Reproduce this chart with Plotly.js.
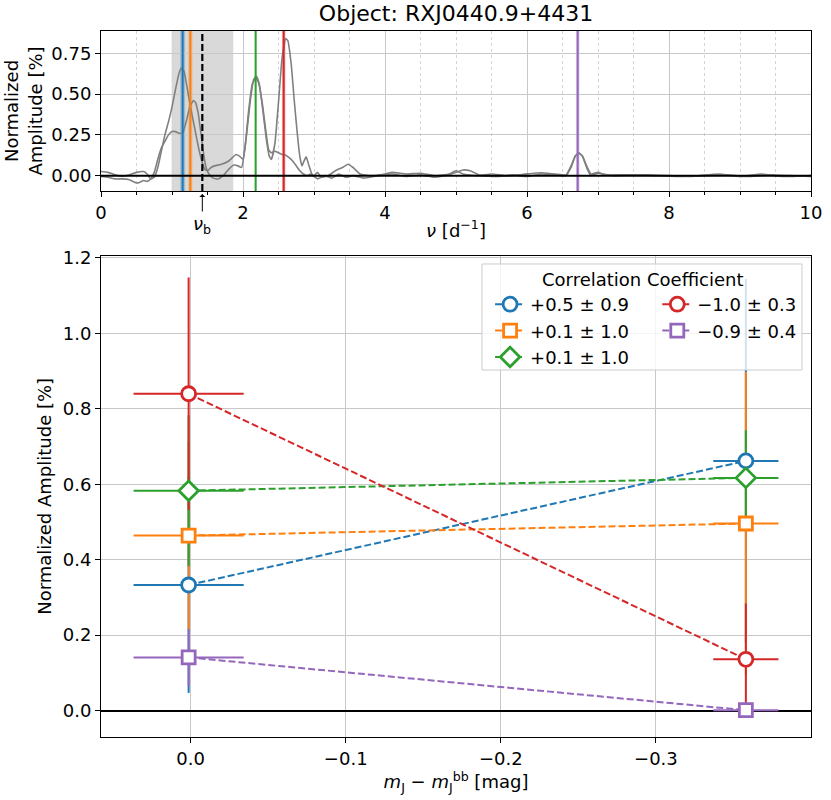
<!DOCTYPE html>
<html>
<head>
<meta charset="utf-8">
<script src="https://cdn.plot.ly/plotly-3.0.1.min.js"></script>
<style>html,body{margin:0;padding:0;background:#fff;}#chart{width:831px;height:800px;}</style>
</head>
<body>
<div id="chart"></div>
<script>
// ---------- Top panel: periodograms ----------
const nu1 = [0.00,0.10,0.20,0.30,0.40,0.50,0.60,0.65,0.70,0.75,0.80,0.85,0.90,0.95,1.00,1.05,1.10,1.13,1.17,1.22,1.27,1.32,1.37,1.42,1.46,1.50,1.55,1.60,1.70,1.80,1.85,1.90,1.95,2.00,2.05,2.10,2.15,2.19,2.23,2.28,2.33,2.37,2.40,2.45,2.50,2.55,2.60,2.63,2.68,2.72,2.76,2.80,2.83,2.86,2.89,2.93,2.97,3.00,3.05,3.10,3.20,3.30,3.40,3.48,3.55,3.65,3.80,4.00,4.10,4.30,4.50,4.70,4.90,5.00,5.10,5.30,5.50,5.70,5.90,6.10,6.20,6.40,6.55,6.62,6.68,6.73,6.78,6.84,6.90,7.00,7.10,7.40,7.70,8.00,8.30,8.70,9.00,9.30,9.60,10.00];
const amp1 = [0.025,0.02,0.005,-0.005,0.005,0.02,0.025,0.01,-0.02,-0.01,0.05,0.15,0.25,0.33,0.42,0.53,0.63,0.66,0.64,0.52,0.40,0.29,0.18,0.09,0.04,0.03,0.05,0.06,0.07,0.09,0.11,0.13,0.12,0.10,0.25,0.45,0.59,0.61,0.56,0.40,0.22,0.12,0.10,0.20,0.45,0.72,0.84,0.83,0.68,0.47,0.28,0.12,0.06,0.09,0.115,0.06,0.01,0.00,0.02,-0.01,0.00,0.03,0.05,0.07,0.05,0.01,0.00,0.01,0.02,0.01,0.015,0.00,0.01,0.03,0.01,0.00,0.01,0.00,0.005,0.015,0.018,0.01,0.005,0.06,0.12,0.14,0.12,0.06,0.01,0.02,0.005,0.005,0.005,0.00,-0.005,0.01,-0.005,0.01,-0.005,0.00];
const nu2 = [0.00,0.10,0.20,0.30,0.40,0.50,0.55,0.60,0.65,0.70,0.75,0.80,0.85,0.90,0.95,1.00,1.05,1.10,1.15,1.20,1.25,1.30,1.33,1.37,1.41,1.45,1.48,1.52,1.58,1.65,1.72,1.80,1.87,1.93,1.98,2.03,2.08,2.13,2.18,2.22,2.27,2.32,2.36,2.40,2.45,2.50,2.55,2.60,2.65,2.70,2.75,2.80,2.85,2.90,2.95,3.00,3.05,3.15,3.25,3.35,3.45,3.55,3.70,3.90,4.10,4.30,4.50,4.70,4.90,5.10,5.20,5.35,5.60,5.80,6.00,6.20,6.40,6.55,6.62,6.68,6.73,6.78,6.84,6.90,7.00,7.20,7.50,7.80,8.10,8.50,8.80,9.10,9.40,9.70,10.00];
const amp2 = [-0.005,-0.01,-0.02,-0.02,-0.025,-0.045,-0.04,-0.03,-0.035,-0.02,0.02,0.10,0.17,0.21,0.25,0.27,0.27,0.26,0.26,0.33,0.42,0.46,0.45,0.38,0.25,0.12,0.05,0.01,-0.015,-0.02,0.00,0.04,0.065,0.06,0.05,0.18,0.40,0.56,0.60,0.57,0.45,0.28,0.16,0.14,0.15,0.14,0.13,0.125,0.11,0.09,0.06,0.03,0.01,0.00,0.01,-0.005,-0.02,0.00,-0.015,0.01,-0.01,0.00,-0.015,0.00,0.01,-0.005,0.005,-0.01,0.005,0.035,0.03,0.00,-0.005,0.005,-0.005,0.01,0.005,0.00,0.05,0.12,0.138,0.12,0.05,0.00,0.015,0.00,0.005,0.00,-0.005,0.00,0.005,-0.005,0.005,0.00,-0.005];

const peakFreqs = [1.15, 1.258, 2.178, 2.573, 6.714];
const peakBands = [0.035, 0.03, 0.01, 0.025, 0.025];
const nuBreak = 1.427;
const breakRegion = [0.995, 1.863];

// ---------- Bottom panel: amplitude vs colour ----------
const colourX = [0.0013, -0.358];
const colourXErr = [0.0355, 0.021];
const seriesNames = ["+0.5 ± 0.9", "+0.1 ± 1.0", "+0.1 ± 1.0", "−1.0 ± 0.3", "−0.9 ± 0.4"];
const ampBlue = [0.333, 0.662],   errBlue = [0.286, 0.482];
const ampOrange = [0.464, 0.496], errOrange = [0.249, 0.402];
const ampGreen = [0.583, 0.617],  errGreen = [0.200, 0.126];
const ampRed = [0.840, 0.136],    errRed = [0.308, 0.148];
const ampPurple = [0.141, 0.001], errPurple = [0.075, 0.010];

const colors = ['#1f77b4','#ff7f0e','#2ca02c','#d62728','#9467bd'];
const bandColors = ['rgba(31,119,180,0.3)','rgba(255,127,14,0.3)','rgba(44,160,44,0.3)','rgba(214,39,40,0.3)','rgba(148,103,189,0.3)'];
const symbols = ['circle','square','diamond','circle','square'];
const msize = [14,13,15,14,13];
const amps = [ampBlue, ampOrange, ampGreen, ampRed, ampPurple];
const errs = [errBlue, errOrange, errGreen, errRed, errPurple];
const legendOf = ['legend','legend','legend','legend2','legend2'];

const FONT = 'DejaVu Sans, sans-serif';
const traces = [];
traces.push({x: nu1, y: amp1, type:'scatter', mode:'lines', line:{color:'#808080', width:1.6, shape:'spline', smoothing:0.4}, xaxis:'x', yaxis:'y', showlegend:false, hoverinfo:'skip'});
traces.push({x: nu2, y: amp2, type:'scatter', mode:'lines', line:{color:'#808080', width:1.6, shape:'spline', smoothing:0.4}, xaxis:'x', yaxis:'y', showlegend:false, hoverinfo:'skip'});

// error bars first
for (let i = 0; i < 5; i++) {
  traces.push({
    x: colourX, y: amps[i], type:'scatter', mode:'markers',
    marker:{size:1, color:'rgba(0,0,0,0)'},
    error_y:{type:'data', array:errs[i], visible:true, color:colors[i], thickness:2, width:0},
    error_x:{type:'data', array:colourXErr, visible:true, color:colors[i], thickness:2, width:0},
    xaxis:'x2', yaxis:'y2', showlegend:false, hoverinfo:'skip'
  });
}
// markers + dashed lines
for (let i = 0; i < 5; i++) {
  traces.push({
    x: colourX, y: amps[i], type:'scatter', mode:'lines+markers', name: seriesNames[i],
    line:{color:colors[i], width:2, dash:'7px,3px'},
    marker:{symbol:symbols[i], size:msize[i], color:'white', line:{color:colors[i], width:2.8}},
    xaxis:'x2', yaxis:'y2', legend: legendOf[i]
  });
}

const shapes = [];
shapes.push({type:'rect', xref:'x', yref:'y domain', x0:breakRegion[0], x1:breakRegion[1], y0:0, y1:1, fillcolor:'rgba(160,160,160,0.4)', line:{width:0}, layer:'below'});
for (let i = 0; i < 5; i++) {
  shapes.push({type:'rect', xref:'x', yref:'y domain', x0:peakFreqs[i]-peakBands[i], x1:peakFreqs[i]+peakBands[i], y0:0, y1:1, fillcolor:bandColors[i], line:{width:0}, layer:'below'});
  shapes.push({type:'line', xref:'x', yref:'y domain', x0:peakFreqs[i], x1:peakFreqs[i], y0:0, y1:1, line:{color:colors[i], width:2}, layer:'above'});
}
shapes.push({type:'line', xref:'x', yref:'y domain', x0:nuBreak, x1:nuBreak, y0:0, y1:1, line:{color:'black', width:2.2, dash:'7px,3px'}, layer:'above'});
shapes.push({type:'line', xref:'x domain', yref:'y', x0:0, x1:1, y0:0, y1:0, line:{color:'black', width:2}, layer:'above'});
// legend frame
shapes.push({type:'rect', xref:'paper', yref:'paper', x0:0.5366, x1:0.9873, y0:0.5198, y1:0.6700, fillcolor:'rgba(255,255,255,0.8)', line:{color:'#cccccc', width:1}, layer:'above'});

const axCommon = {showline:true, mirror:true, linecolor:'black', linewidth:1, ticks:'outside', ticklen:5, tickcolor:'black', showgrid:true, gridcolor:'#c8c8c8', gridwidth:1, zeroline:false, tickfont:{family:FONT, size:18, color:'black'}};

const layout = {
  width:831, height:800,
  margin:{l:101, r:20, t:31, b:63},
  paper_bgcolor:'white', plot_bgcolor:'white',
  font:{family:FONT, size:18, color:'black'},
  title:{text:'Object: RXJ0440.9+4431', font:{family:FONT, size:22, color:'black'}, xref:'paper', x:0.5, xanchor:'center', yref:'container', y:0.983, yanchor:'middle'},
  xaxis: Object.assign({}, axCommon, {domain:[0,1], anchor:'y', range:[0,10], tickvals:[0,2,4,6,8,10], ticktext:['0','2','4','6','8','10'],
    minor:{dtick:0.5, tick0:0, ticks:'outside', ticklen:3, tickcolor:'black', showgrid:true, gridcolor:'#d4d4d4', griddash:'dot', gridwidth:1},
    title:{text:'<i>ν</i> [d<sup>−1</sup>]', font:{family:FONT, size:18}, standoff:2}}),
  yaxis: Object.assign({}, axCommon, {domain:[0.7734,1], anchor:'x', range:[-0.094,0.887], tickvals:[0,0.25,0.5,0.75], ticktext:['0.00','0.25','0.50','0.75'],
    title:{text:'Normalized<br>Amplitude [%]', font:{family:FONT, size:18}, standoff:4}}),
  xaxis2: Object.assign({}, axCommon, {domain:[0,1], anchor:'y2', range:[0.0578,-0.400], tickvals:[0,-0.1,-0.2,-0.3], ticktext:['0.0','−0.1','−0.2','−0.3'],
    title:{text:'<i>m</i><sub>J</sub> − <i>m</i><sub>J</sub><sup>bb</sup> [mag]', font:{family:FONT, size:18}, standoff:2}}),
  yaxis2: Object.assign({}, axCommon, {domain:[0,0.6817], anchor:'x2', range:[-0.070,1.206], tickvals:[0,0.2,0.4,0.6,0.8,1.0,1.2], ticktext:['0.0','0.2','0.4','0.6','0.8','1.0','1.2'],
    zeroline:true, zerolinecolor:'black', zerolinewidth:2,
    title:{text:'Normalized Amplitude [%]', font:{family:FONT, size:18}, standoff:6}}),
  shapes: shapes,
  annotations:[
    {xref:'x', yref:'paper', x:nuBreak, y:0.7691, ax:0, ay:31, text:'<i>ν</i><sub>b</sub>', showarrow:true, arrowhead:1, arrowsize:1, arrowwidth:1, arrowcolor:'black', font:{family:FONT, size:18, color:'black'}},
    {xref:'paper', yref:'paper', x:0.762, y:0.6487, text:'Correlation Coefficient', showarrow:false, xanchor:'center', yanchor:'middle', font:{family:FONT, size:18, color:'black'}}
  ],
  legend:{x:0.548, y:0.6388, xanchor:'left', yanchor:'top', bgcolor:'rgba(0,0,0,0)', borderwidth:0, font:{family:FONT, size:18, color:'black'}, tracegroupgap:0},
  legend2:{x:0.7835, y:0.6388, xanchor:'left', yanchor:'top', bgcolor:'rgba(0,0,0,0)', borderwidth:0, font:{family:FONT, size:18, color:'black'}, tracegroupgap:0},
  showlegend:true
};

Plotly.newPlot('chart', traces, layout, {displayModeBar:false, staticPlot:true});
</script>
</body>
</html>
